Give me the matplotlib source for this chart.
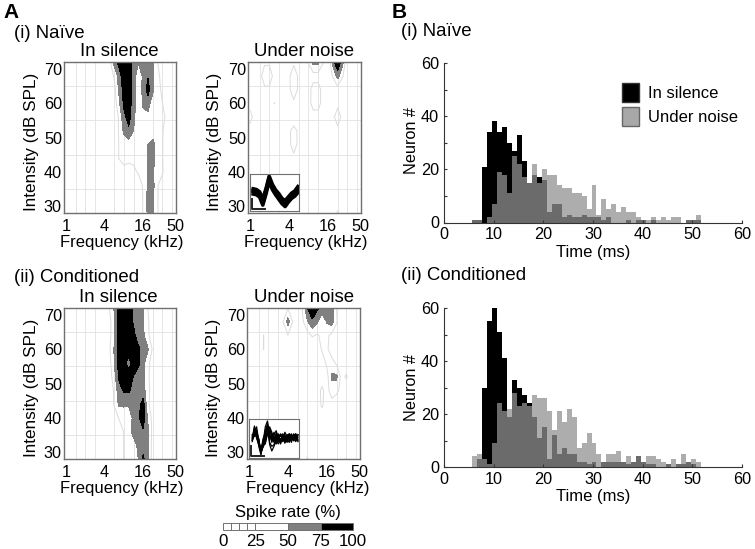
import numpy as np
import matplotlib
matplotlib.use('Agg')
import matplotlib.pyplot as plt
from matplotlib.patches import Patch

plt.rcParams['font.family'] = ['Liberation Sans', 'DejaVu Sans']

W, H = 755, 549

# receptive field grids, spike rate (%), rows 72..28 dB, columns quarter octave from 1 kHz
octaves = np.arange(24) * 0.25
intensity = np.arange(72, 27, -4)

naive_silence = [
    [0,0,0,0,0,0,0,0,0,15,60,85,95,90,68,52,55,65,55,25,15,0,0,0],
    [0,0,0,0,0,0,0,0,0,10,28,62,92,90,68,30,56,72,56,28,20,0,0,0],
    [0,0,0,0,0,0,0,0,0,0,15,55,85,88,66,28,58,85,55,30,22,0,0,0],
    [0,0,0,0,0,0,0,0,0,0,10,45,80,88,62,26,56,62,35,30,25,10,0,0],
    [0,0,0,0,0,0,0,0,0,0,10,28,68,85,60,26,40,42,30,28,28,22,0,0],
    [0,0,0,0,0,0,0,0,0,0,10,27,55,70,50,28,27,30,28,28,26,18,0,0],
    [0,0,0,0,0,0,0,0,0,0,10,26,35,38,28,30,28,50,62,30,26,10,0,0],
    [0,0,0,0,0,0,0,0,0,0,10,26,30,28,27,26,28,52,60,28,26,10,0,0],
    [0,0,0,0,0,0,0,0,0,0,0,10,20,20,23,26,28,52,56,26,27,12,0,0],
    [0,0,0,0,0,0,0,0,0,0,0,0,0,10,15,20,26,55,58,26,15,0,0,0],
    [0,0,0,0,0,0,0,0,0,0,0,0,0,0,10,15,26,58,56,26,10,0,0,0],
    [0,0,0,0,0,0,0,0,0,0,0,0,0,0,10,15,26,56,52,26,10,0,0,0],
]
naive_noise = [
    [0,0,0,20,20,0,0,0,0,20,0,0,28,58,58,28,0,60,100,60,0,0,0,0],
    [0,0,15,40,40,15,0,0,20,40,20,0,0,15,15,0,0,28,60,28,0,0,0,0],
    [0,0,0,20,20,0,0,0,20,40,20,0,15,35,35,15,0,0,15,0,0,0,0,0],
    [15,0,0,0,0,26,0,0,0,20,0,0,15,35,35,15,0,0,18,0,0,0,0,0],
    [35,15,0,0,0,0,0,0,0,0,0,0,0,15,15,0,0,18,38,18,0,0,0,0],
    [15,0,0,0,0,0,0,0,18,38,18,0,0,0,0,0,0,0,18,0,0,0,0,0],
    [0,0,0,0,0,0,0,0,18,38,18,0,0,0,0,0,0,0,0,0,0,0,0,0],
    [0,0,0,0,0,0,0,0,0,18,0,0,0,0,0,0,0,0,0,0,0,0,0,0],
    [0,0,0,0,0,0,0,0,0,0,0,0,0,0,0,0,0,0,0,0,0,0,0,0],
    [0,0,0,0,0,0,0,0,0,0,0,0,0,0,0,0,0,0,0,0,0,0,0,0],
    [0,0,0,0,0,0,0,0,0,0,0,0,0,0,0,0,0,0,0,0,0,0,0,0],
    [0,0,0,0,0,0,0,0,0,0,0,0,0,0,0,0,0,0,30,0,0,0,0,0],
]
cond_silence = [
    [0,0,0,0,0,0,0,0,10,25,52,85,95,90,68,60,52,25,15,0,0,0,0,0],
    [0,0,0,0,0,0,0,0,0,15,48,85,95,90,72,60,53,27,15,0,0,0,0,0],
    [0,0,0,0,0,0,0,0,0,15,48,85,95,92,82,62,55,28,15,0,0,0,0,0],
    [0,0,0,0,0,0,0,0,0,20,52,88,95,95,90,80,65,52,20,0,0,0,0,0],
    [0,0,0,0,0,0,0,0,0,15,50,85,88,60,90,82,58,30,15,0,0,0,0,0],
    [0,0,0,0,0,0,0,0,0,10,40,80,92,90,74,60,55,28,15,0,0,0,0,0],
    [0,0,0,0,0,0,0,0,0,0,30,65,78,80,62,57,62,30,15,0,0,0,0,0],
    [0,0,0,0,0,0,0,0,0,0,28,55,56,52,54,65,85,28,15,0,0,0,0,0],
    [0,0,0,0,0,0,0,0,0,0,10,27,28,38,55,72,88,45,15,0,0,0,0,0],
    [0,0,0,0,0,0,0,0,0,0,0,10,26,42,58,65,72,55,15,0,0,0,0,0],
    [0,0,0,0,0,0,0,0,0,0,0,10,26,26,40,55,65,52,12,0,0,0,0,0],
    [0,0,0,0,0,0,0,0,0,0,0,10,26,26,28,50,80,52,12,0,0,0,0,0],
]
cond_noise = [
    [0,0,0,0,0,0,0,0,24,0,0,28,75,95,80,65,65,60,25,0,0,0,0,0],
    [0,0,0,0,0,0,0,24,60,24,0,20,48,70,55,30,52,62,28,0,0,0,0,0],
    [0,0,0,26,0,0,0,0,24,0,0,0,15,28,22,30,30,18,0,0,0,0,0,0],
    [0,0,0,26,0,0,0,0,0,0,0,0,0,0,10,28,30,10,0,0,0,0,0,0],
    [0,0,0,0,0,0,0,0,0,0,0,0,0,0,0,10,30,35,20,0,0,0,0,0],
    [0,0,0,0,0,0,0,0,0,0,0,0,0,0,0,12,15,55,55,15,30,0,0,0],
    [0,0,0,0,0,0,0,0,0,0,0,0,0,0,15,30,15,38,35,10,0,0,0,0],
    [0,0,0,0,0,0,0,0,0,0,0,0,0,0,10,30,10,15,0,0,0,0,0,0],
    [0,0,0,0,0,0,0,0,0,0,0,0,0,0,0,12,0,0,0,0,0,0,0,0],
    [0,0,0,0,0,0,0,0,0,0,0,0,0,0,0,0,0,0,0,0,0,0,0,0],
    [0,0,0,0,0,0,0,0,0,0,0,0,0,0,0,0,0,0,0,0,0,0,0,0],
    [0,0,0,0,0,0,0,0,0,0,0,0,30,0,0,0,0,0,0,0,28,0,0,0],
]

# spike latency histograms, 1 ms bins
bin_ms = np.arange(6, 52)
naive_sil_hist = [1,1,21,34,38,34,36,30,27,33,23,15,18,17,16,4,7,7,2,3,2,2,3,2,2,2,1,2,0,0,0,1,0,1,1,0,1,0,0,0,0,0,0,1,1,1]
naive_noi_hist = [1,1,0,2,7,19,18,11,25,22,17,15,22,15,20,18,18,14,13,13,11,11,10,5,14,3,9,5,7,4,6,4,4,2,1,1,2,1,2,1,2,2,0,1,1,3]
cond_sil_hist = [0,3,30,55,60,51,41,19,33,30,27,24,19,11,15,3,12,5,7,5,5,2,2,1,2,0,2,2,2,2,2,1,2,4,2,1,1,0,0,1,0,1,1,2,1,0]
cond_noi_hist = [4,5,3,1,9,24,21,22,28,23,24,23,27,26,26,21,14,21,17,22,19,7,9,13,9,5,2,5,5,6,2,4,2,4,2,4,4,3,2,1,3,1,5,2,3,2]

# spike waveforms for the insets
wave_t = [0,3,6,9,12,15,18,21,24,27,30,33,36,39,42]
naive_waves = [
    [.60,.58,.52,.32,.60,.94,.72,.57,.47,.34,.28,.38,.48,.54,.66],
    [.52,.50,.44,.22,.52,.86,.66,.50,.38,.26,.18,.30,.40,.48,.56],
    [.46,.44,.38,.16,.46,.80,.58,.44,.32,.20,.12,.24,.34,.40,.50],
    [.56,.54,.48,.26,.56,.90,.64,.54,.43,.31,.23,.35,.45,.51,.61],
]
cond_t = [0,2,4,6,8,10,12,14,16,18,20,22,24,26,28,30,32,34,36,38,40,42]
cond_waves = [
    [.45,.78,.50,.35,.12,.40,.80,.95,.62,.45,.60,.70,.52,.60,.48,.66,.55,.62,.50,.60,.58,.52],
    [.55,.62,.66,.40,.14,.30,.55,.80,.70,.56,.40,.48,.62,.42,.56,.44,.60,.50,.58,.44,.62,.48],
    [.42,.70,.60,.30,.08,.45,.60,.72,.40,.30,.34,.52,.56,.60,.48,.40,.58,.46,.55,.50,.42,.60],
    [.60,.55,.72,.45,.18,.28,.40,.60,.80,.66,.50,.44,.58,.38,.60,.56,.42,.62,.44,.52,.56,.46],
    [.48,.66,.80,.42,.20,.50,.62,.88,.34,.18,.30,.44,.36,.50,.42,.58,.46,.54,.40,.62,.50,.58],
    [.52,.74,.58,.50,.12,.34,.36,.66,.56,.50,.66,.48,.44,.62,.46,.60,.40,.56,.62,.48,.44,.54],
    [.45,.58,.68,.38,.24,.38,.52,.76,.74,.60,.42,.64,.54,.36,.52,.48,.60,.44,.50,.58,.62,.42],
    [.50,.82,.62,.46,.10,.42,.70,.84,.60,.40,.56,.36,.50,.56,.62,.52,.48,.40,.60,.46,.52,.60],
    [.58,.60,.54,.36,.16,.36,.46,.70,.48,.58,.46,.60,.42,.46,.56,.38,.52,.60,.46,.54,.48,.44],
]

# colour scale of the tuning maps
scale_edges = [0, 6.25, 12.5, 18.75, 25, 50, 75, 100]
scale_colors = ['white', 'white', 'white', 'white', 'white', '#808080', 'black']
scale_ticks = [0, 25, 50, 75, 100]

freq_ticks = [1, 4, 16, 50]
db_ticks = [70, 60, 50, 40, 30]

TICK_FS = 11.7
LABEL_FS = 12
HEAD_FS = 13.4
GRAY = '#808080'


def box(l, t, r, b):
    return [l / W, 1 - b / H, (r - l) / W, (b - t) / H]


def label(x, y, s, **kw):
    kw.setdefault('fontsize', LABEL_FS)
    kw.setdefault('va', 'center')
    fig.text(x / W, 1 - y / H, s, **kw)


def tuning(l, t, r, b, z, xlab, ylab):
    ax = fig.add_axes(box(l, t, r, b))
    ax.set_xlim(-0.1, 5.7)
    ax.set_ylim(28, 72)
    ax.set_xticks(np.arange(0, 5.7, 0.5), minor=True)
    ax.set_yticks(np.arange(30, 71, 5), minor=True)
    ax.grid(which='minor', color='#e2e2e2', lw=0.6)
    ax.set_axisbelow(True)
    ax.contourf(octaves, intensity, z, levels=[50, 75, 101], colors=[GRAY, 'black'])
    ax.contour(octaves, intensity, z, levels=[25], colors='#dcdcdc', linewidths=0.7)
    ax.set_xticks(np.log2(freq_ticks), [str(f) for f in freq_ticks])
    ax.set_yticks(db_ticks)
    ax.tick_params(which='both', length=0, labelsize=TICK_FS)
    ax.tick_params(axis='x', pad=4.5)
    ax.tick_params(axis='y', pad=1.5)
    ax.set_xlabel('Frequency (kHz)', fontsize=LABEL_FS, va='center')
    ax.xaxis.set_label_coords(xlab[0] / W, 1 - xlab[1] / H, transform=fig.transFigure)
    ax.set_ylabel('Intensity (dB SPL)', fontsize=12.3, va='center')
    ax.yaxis.set_label_coords(ylab[0] / W, 1 - ylab[1] / H, transform=fig.transFigure)
    for s in ax.spines.values():
        s.set_color('#707070')
        s.set_linewidth(1)
    return ax


def inset(l, t, r, b, ts, waves, lw):
    ax = fig.add_axes(box(l, t, r, b))
    for w in waves:
        ax.plot(ts, w, color='black', lw=lw)
    ax.plot([-1.5, -1.5, 11], [0.32, 0.06, 0.06], color='#222222', lw=1.4)
    ax.set_xlim(-3, 43)
    ax.set_ylim(0, 1)
    ax.set_xticks([])
    ax.set_yticks([])
    for s in ax.spines.values():
        s.set_color('#707070')
        s.set_linewidth(0.8)


def latency(l, t, r, b, sil, noi, xlab_y, ylab_y):
    ax = fig.add_axes(box(l, t, r, b))
    ax.bar(bin_ms + 0.2, sil, width=1, color='black')
    ax.bar(bin_ms + 0.2, noi, width=1, color='#919191', alpha=0.74)
    ax.set_xlim(0, 60)
    ax.set_ylim(0, 60)
    ax.set_xticks(range(0, 61, 10))
    ax.set_yticks(range(0, 61, 20))
    ax.set_yticks(range(10, 60, 20), minor=True)
    ax.tick_params(which='both', direction='in', length=2.5, width=0.8, color='#333333')
    ax.tick_params(labelsize=TICK_FS)
    ax.tick_params(axis='x', pad=3.5)
    ax.tick_params(axis='y', pad=3.5)
    ax.set_xlabel('Time (ms)', fontsize=LABEL_FS, va='center')
    ax.xaxis.set_label_coords(593 / W, 1 - xlab_y / H, transform=fig.transFigure)
    ax.set_ylabel('Neuron #', fontsize=TICK_FS, va='center')
    ax.yaxis.set_label_coords(412 / W, 1 - ylab_y / H, transform=fig.transFigure)
    ax.spines[['top', 'right']].set_visible(False)
    ax.spines[['left', 'bottom']].set_color('#333333')
    return ax


fig = plt.figure(figsize=(W / 100, H / 100), dpi=100)

tuning(64, 62, 176, 213, naive_silence, (122, 242), (32, 142))
tuning(248, 62, 361, 213, naive_noise, (306, 242), (214, 142))
tuning(64, 308, 176, 459, cond_silence, (122, 489), (32, 388))
tuning(247, 308, 360, 459, cond_noise, (308, 489), (213, 388))

inset(250, 174, 299, 211, wave_t, naive_waves, 2.6)
inset(249, 419, 299, 458, cond_t, cond_waves, 0.9)

ax1 = latency(444, 63, 742, 222.5, naive_sil_hist, naive_noi_hist, 253, 141)
latency(444, 308, 742, 467, cond_sil_hist, cond_noi_hist, 497, 388)

ax1.legend(handles=[Patch(facecolor='black', edgecolor='#333333', label='In silence'),
                    Patch(facecolor='#a8a8a8', edgecolor='#666666', label='Under noise')],
           frameon=False, fontsize=LABEL_FS, loc='upper left', bbox_to_anchor=(0.597, 0.875),
           handlelength=1.0, handleheight=1.4, handletextpad=0.55, labelspacing=0.3,
           borderpad=0, borderaxespad=0)

# colour scale
cax = fig.add_axes(box(223, 523, 353, 529.5))
for c, lo, hi in zip(scale_colors, scale_edges[:-1], scale_edges[1:]):
    cax.barh(0, hi - lo, left=lo, height=1, color=c, edgecolor='#707070', lw=0.7, clip_on=False)
cax.set_xlim(0, 100)
cax.set_ylim(-0.5, 0.5)
cax.set_yticks([])
cax.set_xticks(scale_ticks)
cax.tick_params(length=0, labelsize=TICK_FS + 0.5, pad=3)
for s in cax.spines.values():
    s.set_visible(False)

label(288, 513, 'Spike rate (%)', ha='center', fontsize=LABEL_FS)

label(3, 13, 'A', fontweight='bold', fontsize=15)
label(392, 13, 'B', fontweight='bold', fontsize=15)
label(14, 33, '(i) Naïve', fontsize=HEAD_FS)
label(14, 277, '(ii) Conditioned', fontsize=HEAD_FS)
label(401, 32, '(i) Naïve', fontsize=HEAD_FS)
label(401, 275, '(ii) Conditioned', fontsize=HEAD_FS)
label(119, 52, 'In silence', ha='center', fontsize=HEAD_FS)
label(304, 52, 'Under noise', ha='center', fontsize=HEAD_FS)
label(118, 298, 'In silence', ha='center', fontsize=HEAD_FS)
label(304, 298, 'Under noise', ha='center', fontsize=HEAD_FS)

fig.savefig('out.png', dpi=100)
